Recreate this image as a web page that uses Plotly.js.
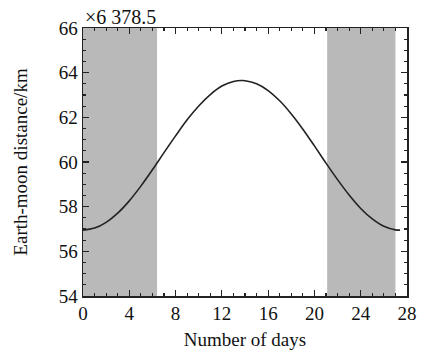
<!DOCTYPE html>
<html><head><meta charset="utf-8">
<script src="https://cdn.plot.ly/plotly-3.0.1.min.js"></script>
<style>body{margin:0;background:#fff}#c{width:424px;height:355px}</style>
</head><body><div id="c"></div>
<script>
const days = [0,1,2,3,4,5,6,7,8,9,10,11,12,13,13.7,14,15,16,17,18,19,20,21,22,23,24,25,26,27,27.4];
const distance = [56.95,57.04,57.30,57.71,58.26,58.92,59.65,60.42,61.17,61.89,62.51,63.02,63.40,63.60,63.65,63.64,63.50,63.20,62.74,62.15,61.47,60.72,59.95,59.21,58.52,57.92,57.45,57.12,56.96,56.95];
const shadeStart = [0, 21.1];
const shadeEnd = [6.4, 27.0];
const xTicks = [0,4,8,12,16,20,24,28];
const yTicks = [54,56,58,60,62,64,66];
const scaleLabel = "\u00d76 378.5";

const shapes = shadeStart.map((s,i)=>({type:'rect',xref:'x',yref:'paper',x0:s,x1:shadeEnd[i],y0:0,y1:1,fillcolor:'#b9b9b9',line:{width:0},layer:'below'}));

const font = {family:'Liberation Serif', size:19, color:'#111'};
Plotly.newPlot('c',[{x:days,y:distance,mode:'lines',line:{color:'#222',width:1.6,shape:'spline'},hoverinfo:'skip'}],{
  width:424,height:355,
  margin:{l:83,r:17,t:28,b:59},
  paper_bgcolor:'#fff',plot_bgcolor:'#fff',
  showlegend:false,
  font:font,
  shapes:shapes,
  xaxis:{range:[0,28],tickvals:xTicks,ticks:'inside',ticklen:6,tickwidth:1.2,tickcolor:'#222',
    minor:{dtick:1,tick0:0,ticks:'inside',ticklen:3,tickcolor:'#222'},
    showline:true,linecolor:'#222',linewidth:1.5,mirror:'ticks',showgrid:false,zeroline:false,
    tickfont:font,title:{text:'Number of days',font:font,standoff:9}},
  yaxis:{range:[54,66],tickvals:yTicks,ticks:'inside',ticklen:6,tickwidth:1.2,tickcolor:'#222',
    minor:{dtick:0.5,tick0:54,ticks:'inside',ticklen:3,tickcolor:'#222'},
    showline:true,linecolor:'#222',linewidth:1.5,mirror:'ticks',showgrid:false,zeroline:false,
    tickfont:font,title:{text:'Earth-moon distance/km',font:font,standoff:26}},
  annotations:[{text:scaleLabel,xref:'paper',yref:'paper',x:0,y:1,xanchor:'left',yanchor:'bottom',showarrow:false,font:{family:'Liberation Serif',size:20,color:'#111'},yshift:-2}]
},{staticPlot:true});
</script></body></html>
